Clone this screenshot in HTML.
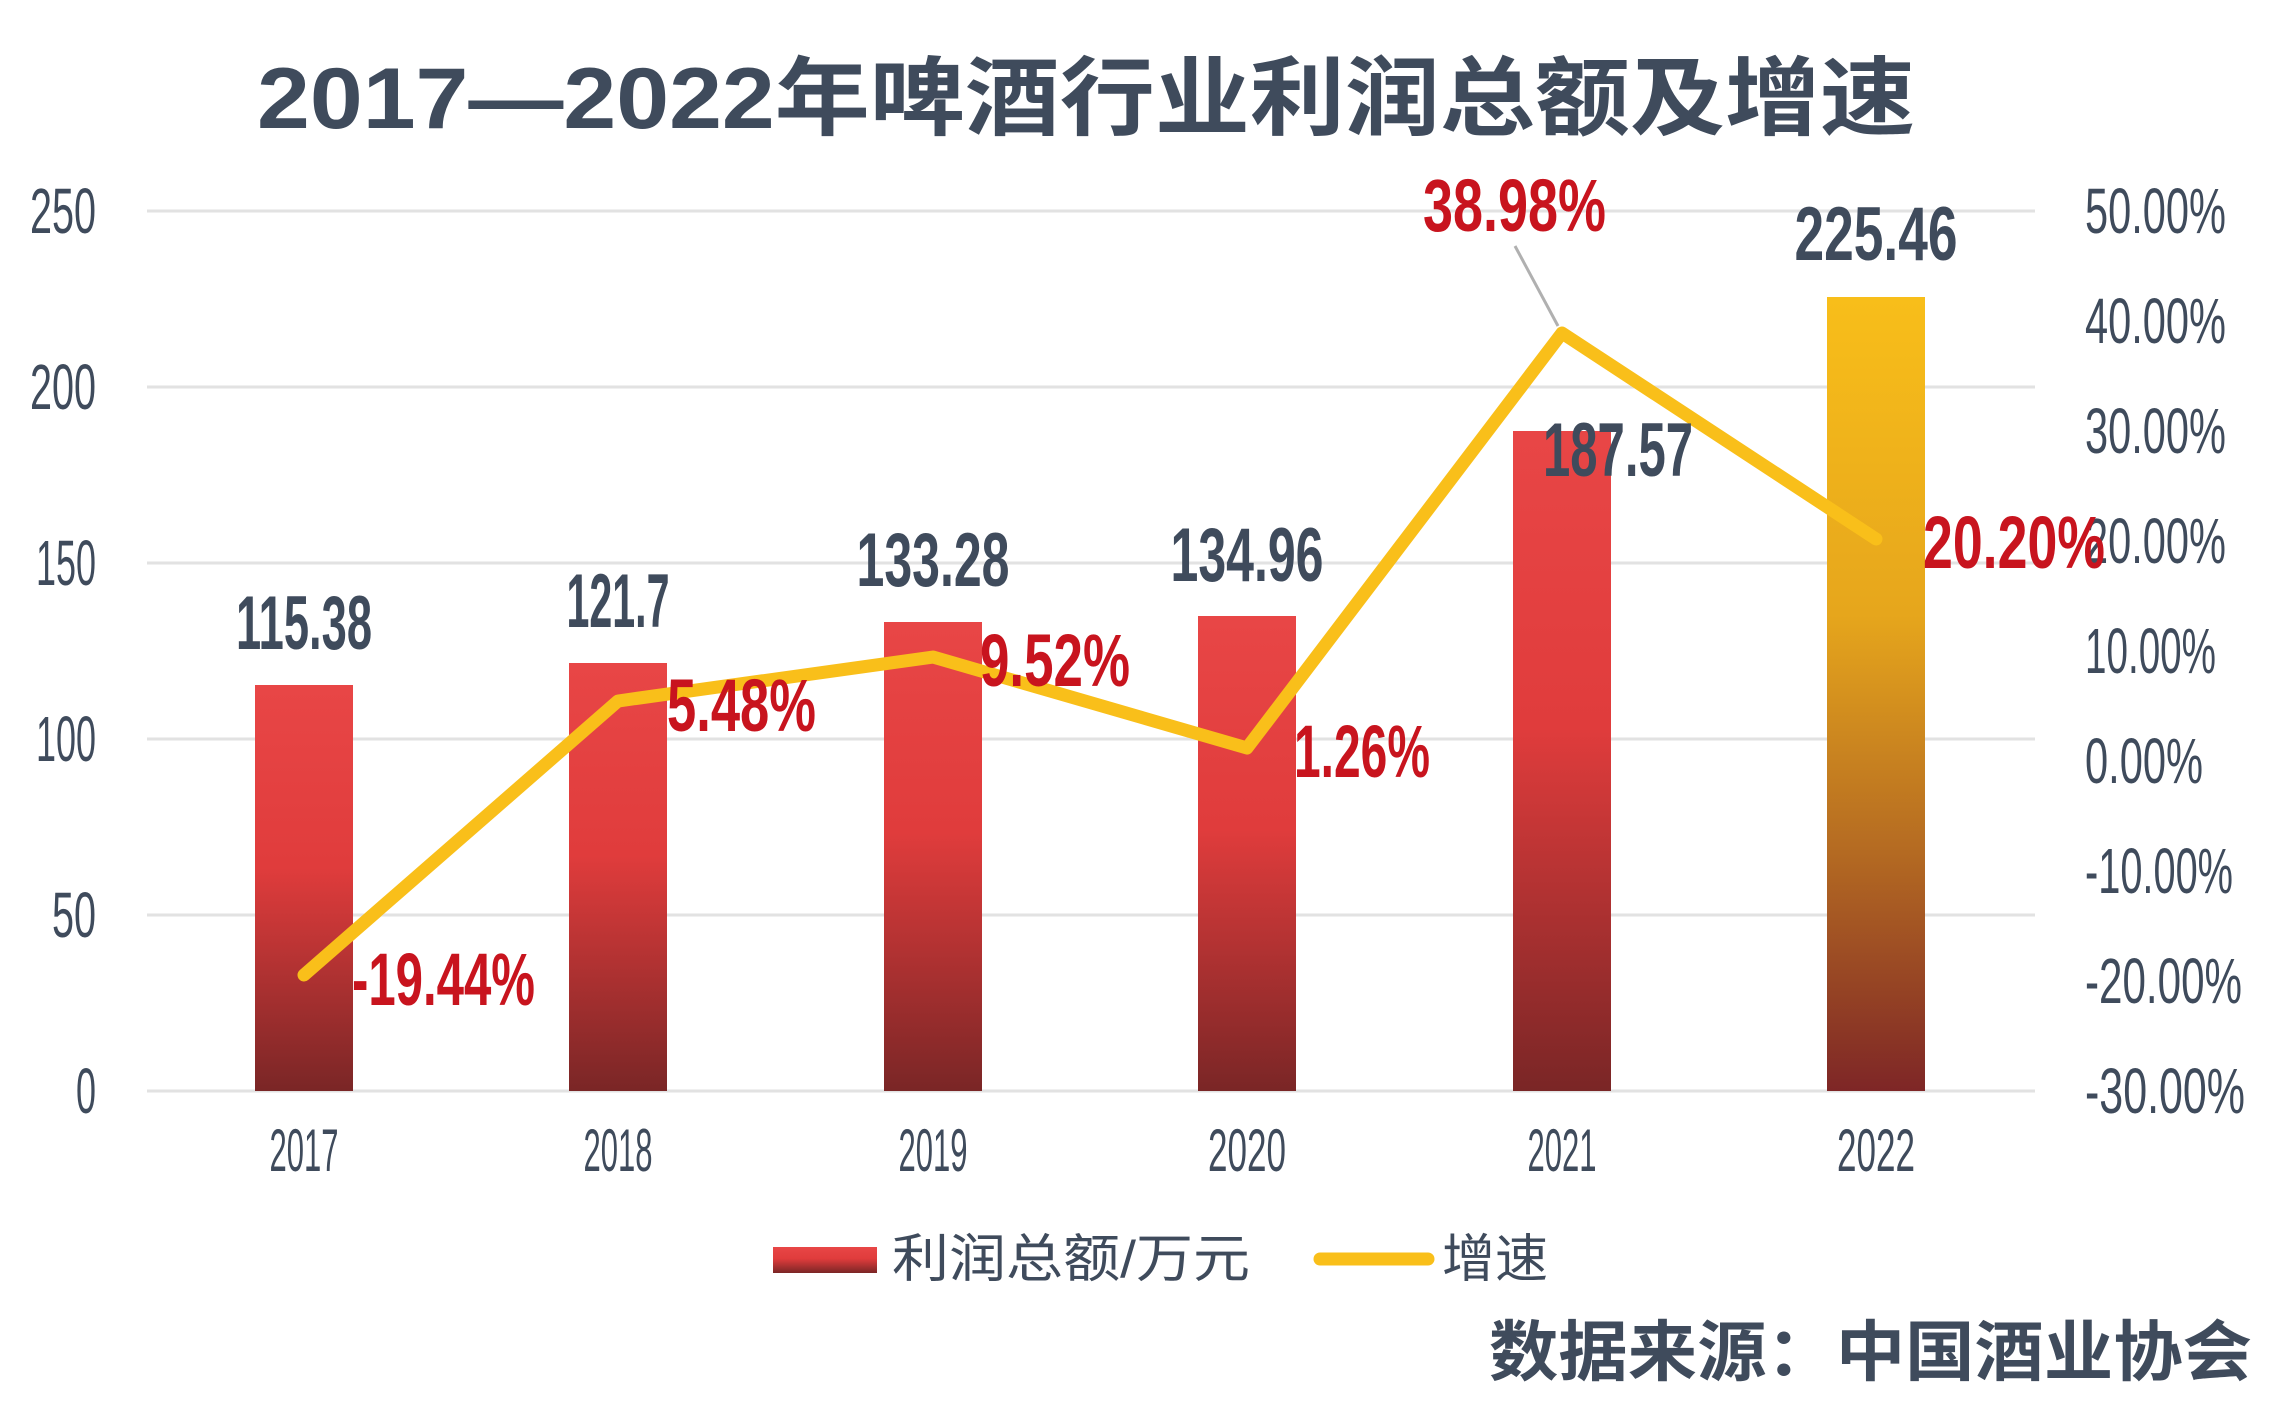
<!DOCTYPE html>
<html><head><meta charset="utf-8"><style>
html,body{margin:0;padding:0;background:#fff;}
svg{display:block;}
.n{font-family:"Liberation Sans Narrow","Liberation Sans",sans-serif;}
</style></head><body>
<svg width="2277" height="1420" viewBox="0 0 2277 1420" xmlns="http://www.w3.org/2000/svg">
<defs>
<linearGradient id="rg" x1="0" y1="0" x2="0" y2="1">
<stop offset="0" stop-color="#e84646"/><stop offset="0.45" stop-color="#e03c3c"/><stop offset="1" stop-color="#7a2626"/></linearGradient>
<linearGradient id="gg" x1="0" y1="0" x2="0" y2="1">
<stop offset="0" stop-color="#f8be1a"/><stop offset="0.4" stop-color="#e6a61c"/><stop offset="0.7" stop-color="#b46a22"/><stop offset="1" stop-color="#7e2626"/></linearGradient>
</defs>
<text x="1086" y="128" text-anchor="middle" font-family="'Liberation Sans','Noto Sans CJK SC',sans-serif" font-weight="bold" font-size="86" fill="#3f4b5c" textLength="1658" lengthAdjust="spacingAndGlyphs">2017—2022年啤酒行业利润总额及增速</text>
<g stroke="#e2e2e2" stroke-width="3">
<line x1="147" y1="211" x2="2035" y2="211"/><line x1="147" y1="387" x2="2035" y2="387"/>
<line x1="147" y1="563" x2="2035" y2="563"/><line x1="147" y1="739" x2="2035" y2="739"/>
<line x1="147" y1="915" x2="2035" y2="915"/><line x1="147" y1="1091" x2="2035" y2="1091"/>
</g>
<g class="n" font-size="64" fill="#3f4b5c" text-anchor="end">
<text x="96" y="233" textLength="66" lengthAdjust="spacingAndGlyphs">250</text>
<text x="96" y="409" textLength="66" lengthAdjust="spacingAndGlyphs">200</text>
<text x="96" y="585" textLength="60" lengthAdjust="spacingAndGlyphs">150</text>
<text x="96" y="761" textLength="60" lengthAdjust="spacingAndGlyphs">100</text>
<text x="96" y="937" textLength="44" lengthAdjust="spacingAndGlyphs">50</text>
<text x="96" y="1113" textLength="20" lengthAdjust="spacingAndGlyphs">0</text>
</g>
<g class="n" font-size="64" fill="#3f4b5c">
<text x="2085" y="233" textLength="141" lengthAdjust="spacingAndGlyphs">50.00%</text>
<text x="2085" y="343" textLength="141" lengthAdjust="spacingAndGlyphs">40.00%</text>
<text x="2085" y="453" textLength="141" lengthAdjust="spacingAndGlyphs">30.00%</text>
<text x="2085" y="563" textLength="141" lengthAdjust="spacingAndGlyphs">20.00%</text>
<text x="2085" y="673" textLength="131" lengthAdjust="spacingAndGlyphs">10.00%</text>
<text x="2085" y="783" textLength="118" lengthAdjust="spacingAndGlyphs">0.00%</text>
<text x="2085" y="893" textLength="148" lengthAdjust="spacingAndGlyphs">-10.00%</text>
<text x="2085" y="1003" textLength="157" lengthAdjust="spacingAndGlyphs">-20.00%</text>
<text x="2085" y="1113" textLength="160" lengthAdjust="spacingAndGlyphs">-30.00%</text>
</g>
<g class="n" font-size="60" fill="#3f4b5c" text-anchor="middle">
<text x="304" y="1171" textLength="69" lengthAdjust="spacingAndGlyphs">2017</text>
<text x="618" y="1171" textLength="69" lengthAdjust="spacingAndGlyphs">2018</text>
<text x="933" y="1171" textLength="69" lengthAdjust="spacingAndGlyphs">2019</text>
<text x="1247" y="1171" textLength="78" lengthAdjust="spacingAndGlyphs">2020</text>
<text x="1562" y="1171" textLength="69" lengthAdjust="spacingAndGlyphs">2021</text>
<text x="1876" y="1171" textLength="78" lengthAdjust="spacingAndGlyphs">2022</text>
</g>
<rect x="255" y="685" width="98" height="406" fill="url(#rg)"/>
<rect x="569" y="663" width="98" height="428" fill="url(#rg)"/>
<rect x="884" y="622" width="98" height="469" fill="url(#rg)"/>
<rect x="1198" y="616" width="98" height="475" fill="url(#rg)"/>
<rect x="1513" y="431" width="98" height="660" fill="url(#rg)"/>
<rect x="1827" y="297" width="98" height="794" fill="url(#gg)"/>
<line x1="1515" y1="246" x2="1558" y2="326" stroke="#b0b0b0" stroke-width="3"/>
<polyline points="304,975 618,701 933,657 1247,748 1562,333 1876,539" fill="none" stroke="#f9bf1a" stroke-width="13" stroke-linejoin="round" stroke-linecap="round"/>
<g class="n" font-weight="bold" font-size="76" fill="#3f4b5c" text-anchor="middle">
<text x="304" y="649" textLength="136" lengthAdjust="spacingAndGlyphs">115.38</text>
<text x="618" y="627" textLength="103" lengthAdjust="spacingAndGlyphs">121.7</text>
<text x="933" y="586" textLength="153" lengthAdjust="spacingAndGlyphs">133.28</text>
<text x="1247" y="581" textLength="153" lengthAdjust="spacingAndGlyphs">134.96</text>
<text x="1618" y="476" textLength="150" lengthAdjust="spacingAndGlyphs">187.57</text>
<text x="1876" y="260" textLength="163" lengthAdjust="spacingAndGlyphs">225.46</text>
</g>
<g class="n" font-weight="bold" font-size="74" fill="#c8141e">
<text x="352" y="1005" textLength="183" lengthAdjust="spacingAndGlyphs">-19.44%</text>
<text x="667" y="731" textLength="149" lengthAdjust="spacingAndGlyphs">5.48%</text>
<text x="980" y="686" textLength="150" lengthAdjust="spacingAndGlyphs">9.52%</text>
<text x="1294" y="777" textLength="136" lengthAdjust="spacingAndGlyphs">1.26%</text>
<text x="1423" y="231" textLength="183" lengthAdjust="spacingAndGlyphs">38.98%</text>
<text x="1923" y="568" textLength="182" lengthAdjust="spacingAndGlyphs">20.20%</text>
</g>
<rect x="773" y="1247" width="104" height="26" fill="url(#rg)"/>
<text x="892" y="1277" font-family="'Liberation Sans','Noto Sans CJK SC',sans-serif" font-size="52" fill="#3f4b5c" textLength="358" lengthAdjust="spacingAndGlyphs">利润总额/万元</text>
<line x1="1320" y1="1259" x2="1428" y2="1259" stroke="#f9bf1a" stroke-width="13" stroke-linecap="round"/>
<text x="1442" y="1277" font-family="'Liberation Sans','Noto Sans CJK SC',sans-serif" font-size="52" fill="#3f4b5c" textLength="106" lengthAdjust="spacingAndGlyphs">增速</text>
<text x="1489" y="1375" font-family="'Liberation Sans','Noto Sans CJK SC',sans-serif" font-weight="bold" font-size="66" fill="#3f4b5c" textLength="763" lengthAdjust="spacingAndGlyphs">数据来源：中国酒业协会</text>
</svg>
</body></html>
